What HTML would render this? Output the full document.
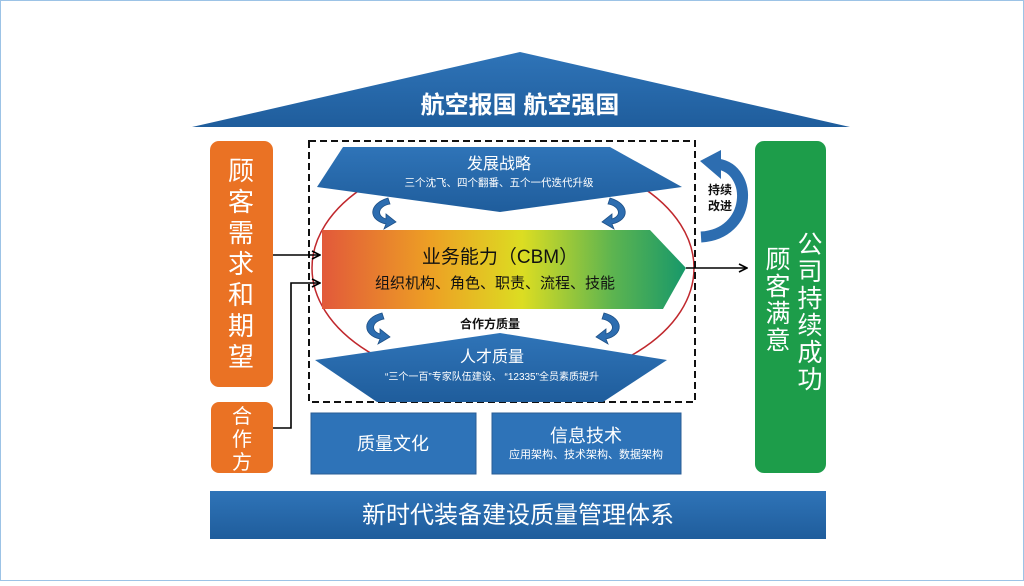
<!DOCTYPE html>
<html><head><meta charset="utf-8"><style>
body{margin:0;width:1024px;height:581px;overflow:hidden;background:#fff;font-family:"Liberation Sans","Noto Sans CJK SC",sans-serif}
</style></head><body>
<svg width="1024" height="581" viewBox="0 0 1024 581" xmlns="http://www.w3.org/2000/svg" font-family="Liberation Sans, Noto Sans CJK SC, sans-serif">
<defs>
<linearGradient id="rb" x1="0" x2="1" y1="0" y2="0">
<stop offset="0" stop-color="#e2593a"/><stop offset="0.3" stop-color="#eda024"/><stop offset="0.55" stop-color="#dcdd22"/><stop offset="0.8" stop-color="#5cb450"/><stop offset="1" stop-color="#17986a"/></linearGradient>
<linearGradient id="bl" x1="0" x2="0" y1="0" y2="1"><stop offset="0" stop-color="#2f74b8"/><stop offset="1" stop-color="#1f5d9c"/></linearGradient>
<marker id="ah" markerWidth="10" markerHeight="10" refX="9" refY="5" orient="auto" markerUnits="userSpaceOnUse"><path d="M1,1 L9,5 L1,9" fill="none" stroke="#000" stroke-width="1.6"/></marker>
</defs>
<rect x="0.5" y="0.5" width="1023" height="580" fill="none" stroke="#9cc3e6"/>
<polygon points="520,52 850,127 192,127" fill="url(#bl)"/>
<text x="520" y="113" text-anchor="middle" font-size="24" font-weight="bold" fill="#fff">航空报国  航空强国</text>
<rect x="210" y="141" width="63" height="246" rx="9" fill="#ea7224"/>
<g font-size="26" fill="#fff" text-anchor="middle"><text x="241" y="180">顾</text><text x="241" y="211">客</text><text x="241" y="242">需</text><text x="241" y="273">求</text><text x="241" y="304">和</text><text x="241" y="335">期</text><text x="241" y="366">望</text></g>
<rect x="211" y="402" width="62" height="71" rx="8" fill="#ea7224"/>
<g font-size="20" fill="#fff" text-anchor="middle"><text x="242" y="423">合</text><text x="242" y="446">作</text><text x="242" y="469">方</text></g>
<ellipse cx="503" cy="268" rx="191" ry="118" fill="none" stroke="#c0282d" stroke-width="1.5"/>
<rect x="309" y="141" width="386" height="261" fill="none" stroke="#111" stroke-width="2" stroke-dasharray="7,4"/>
<polygon points="343,147 610,147 682,187 500,212 317,187" fill="url(#bl)"/>
<text x="499" y="169" text-anchor="middle" font-size="16" fill="#fff">发展战略</text>
<text x="499" y="186" text-anchor="middle" font-size="10.5" fill="#fff">三个沈飞、四个翻番、五个一代迭代升级</text>
<polygon points="322,230 650,230 686,268 663,309 322,309" fill="url(#rb)"/>
<text x="500" y="263" text-anchor="middle" font-size="19" fill="#111">业务能力（CBM）</text>
<text x="495" y="288" text-anchor="middle" font-size="15" fill="#111">组织机构、角色、职责、流程、技能</text>
<text x="490" y="328" text-anchor="middle" font-size="12" font-weight="bold" fill="#111">合作方质量</text>
<polygon points="500,333 667,360 603,402 377,402 315,360" fill="url(#bl)"/>
<text x="492" y="362" text-anchor="middle" font-size="16" fill="#fff">人才质量</text>
<text x="492" y="380" text-anchor="middle" font-size="10" fill="#fff">“三个一百”专家队伍建设、 “12335”全员素质提升</text>
<g fill="#2d6db0" stroke="#1d4f85" stroke-width="0.8">
<path d="M388,198 C368,204 368,220 386,224 L384,229 L396,222 L386,214 L386,219 C376,216 378,206 390,204 Z"/>
<path d="M610,198 C630,204 630,220 612,224 L614,229 L602,222 L612,214 L612,219 C622,216 620,206 608,204 Z"/>
<path d="M382,313 C362,318 362,335 380,339 L378,344 L390,337 L380,329 L380,334 C370,331 372,321 384,319 Z"/>
<path d="M604,313 C624,318 624,335 606,339 L608,344 L596,337 L606,329 L606,334 C616,331 614,321 602,319 Z"/>
</g>
<path d="M701,237 C752,234 754,170 718,164" fill="none" stroke="#2d6db0" stroke-width="11"/>
<polygon points="721,150 721,179 700,161" fill="#2d6db0"/>
<text x="720" y="194" text-anchor="middle" font-size="12" font-weight="bold" fill="#111">持续</text>
<text x="720" y="210" text-anchor="middle" font-size="12" font-weight="bold" fill="#111">改进</text>
<rect x="311" y="413" width="165" height="61" fill="#2e73b8" stroke="#2a5c95"/>
<text x="393" y="450" text-anchor="middle" font-size="18" fill="#fff">质量文化</text>
<rect x="492" y="413" width="189" height="61" fill="#2e73b8" stroke="#2a5c95"/>
<text x="586" y="442" text-anchor="middle" font-size="18" fill="#fff">信息技术</text>
<text x="586" y="458" text-anchor="middle" font-size="11" fill="#fff">应用架构、技术架构、数据架构</text>
<rect x="210" y="491" width="616" height="48" fill="url(#bl)"/>
<text x="518" y="523" text-anchor="middle" font-size="24" fill="#fff">新时代装备建设质量管理体系</text>
<rect x="755" y="141" width="71" height="332" rx="9" fill="#1d9d4a"/>
<g font-size="25" fill="#fff" text-anchor="middle">
<text x="810" y="253">公</text><text x="810" y="280">司</text><text x="810" y="307">持</text><text x="810" y="334">续</text><text x="810" y="361">成</text><text x="810" y="388">功</text>
<text x="778" y="268">顾</text><text x="778" y="295">客</text><text x="778" y="322">满</text><text x="778" y="349">意</text></g>
<g stroke="#000" stroke-width="1.6" fill="none">
<line x1="273" y1="255" x2="320" y2="255" marker-end="url(#ah)"/>
<polyline points="273,428 291,428 291,283 320,283" marker-end="url(#ah)"/>
<line x1="686" y1="268" x2="747" y2="268" marker-end="url(#ah)"/>
</g>
</svg>
</body></html>
